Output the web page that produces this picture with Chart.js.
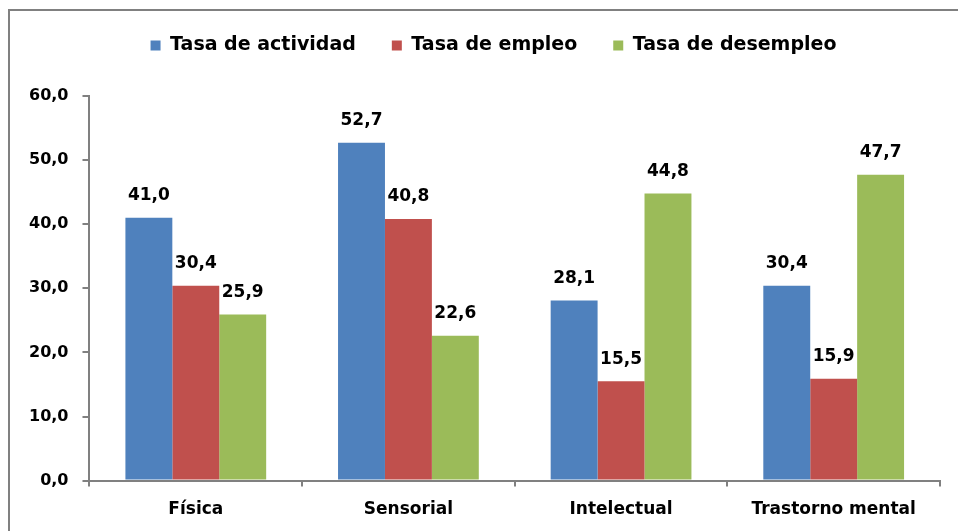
<!DOCTYPE html>
<html>
<head>
<meta charset="utf-8">
<script src="https://cdn.jsdelivr.net/npm/chart.js@4.4.0/dist/chart.umd.min.js"></script>
<style>
html,body{margin:0;padding:0;background:#fff;overflow:hidden}
#wrap{position:relative;width:958px;height:531px}
#frame{position:absolute;left:8px;top:9px;width:960px;height:540px;border-left:2px solid #808080;border-top:2px solid #808080}
canvas{position:absolute;left:0;top:0}
</style>
</head>
<body>
<div id="wrap">
<div id="frame"></div>
<canvas id="chartTasas" width="958" height="531"></canvas>
</div>
<script>
const categories=["Física","Sensorial","Intelectual","Trastorno mental"]
const tasaActividad=[41.0,52.7,28.1,30.4]
const tasaEmpleo=[30.4,40.8,15.5,15.9]
const tasaDesempleo=[25.9,22.6,44.8,47.7]
const seriesNames=["Tasa de actividad","Tasa de empleo","Tasa de desempleo"]
const seriesColours=["#4F81BD","#C0504D","#9BBB59"]

const fmt=v=>Number(v).toFixed(1).replace('.',',')
const FONT="'DejaVu Sans', sans-serif"

// values above each bar
const topLabels={
  id:'topLabels',
  afterDatasetsDraw(chart){
    const ctx=chart.ctx
    ctx.save()
    ctx.font="bold 17px "+FONT
    ctx.fillStyle='#000'
    ctx.textAlign='center'
    ctx.textBaseline='middle'
    chart.data.datasets.forEach((ds,i)=>{
      chart.getDatasetMeta(i).data.forEach((bar,j)=>{
        ctx.fillText(fmt(ds.data[j]),bar.x,bar.y-22)
      })
    })
    ctx.restore()
  }
}

// extra room under the legend, and nudge it right (chart.js centres it off by padding/2)
const legendGap={
  id:'legendGap',
  beforeInit(chart){
    const lg=chart.legend
    const fit=lg.fit
    lg.fit=function(){
      fit.bind(lg)()
      this.height+=31
    }
    const draw=lg.draw
    lg.draw=function(...a){
      chart.ctx.save()
      chart.ctx.translate(16,0)
      draw.apply(lg,a)
      chart.ctx.restore()
    }
  }
}

const grey='#808080'
new Chart(document.getElementById('chartTasas'),{
  type:'bar',
  data:{
    labels:categories,
    datasets:[tasaActividad,tasaEmpleo,tasaDesempleo].map((d,i)=>({
      label:seriesNames[i],
      data:d,
      backgroundColor:seriesColours[i],
      categoryPercentage:0.662,
      barPercentage:1
    }))
  },
  options:{
    responsive:false,
    animation:false,
    layout:{padding:{left:15,right:18,top:0,bottom:-2}},
    plugins:{
      legend:{
        display:true,
        position:'top',
        labels:{
          boxWidth:10,boxHeight:10,padding:36,color:'#000',
          font:{family:FONT,size:19,weight:'bold'}
        }
      },
      tooltip:{enabled:false}
    },
    scales:{
      x:{
        grid:{display:true,drawOnChartArea:false,drawTicks:true,tickLength:6,color:grey,lineWidth:2},
        border:{display:true,color:grey,width:2},
        ticks:{color:'#000',padding:13,font:{family:FONT,size:17,weight:'bold'}}
      },
      y:{
        min:0,max:60,
        grid:{display:true,drawOnChartArea:false,drawTicks:true,tickLength:7,color:grey,lineWidth:2},
        border:{display:true,color:grey,width:2},
        ticks:{stepSize:10,color:'#000',padding:14,callback:v=>fmt(v),font:{family:FONT,size:16,weight:'bold'}}
      }
    }
  },
  plugins:[topLabels,legendGap]
})
</script>
</body>
</html>
